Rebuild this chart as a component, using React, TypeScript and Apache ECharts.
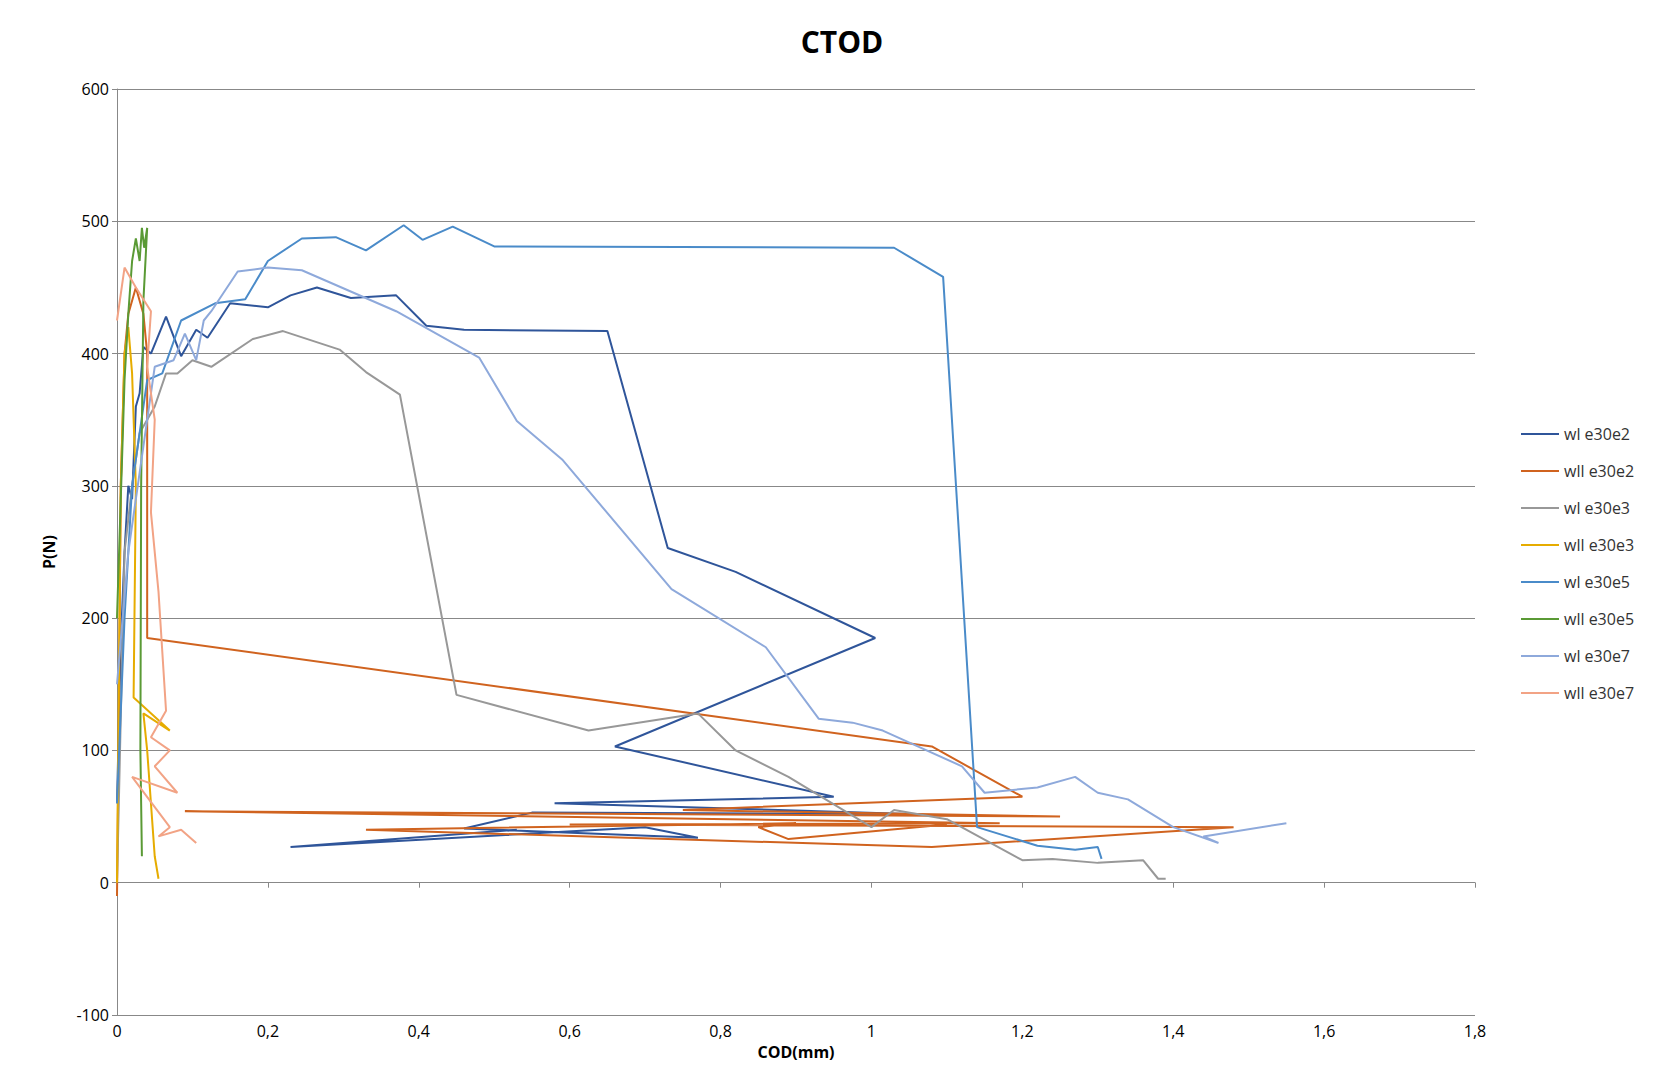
import React, { useEffect, useRef } from "react";
import * as echarts from "echarts";

const seriesNames = ["wl e30e2", "wll e30e2", "wl e30e3", "wll e30e3", "wl e30e5", "wll e30e5", "wl e30e7", "wll e30e7"];
const colors = ["#2F559A", "#D0631F", "#989898", "#E6AC00", "#4A8BC9", "#5A9A35", "#8EA9DB", "#F2A385"];

const wlE30e2 = [[0, 60], [0.005, 180], [0.01, 250], [0.015, 300], [0.02, 290], [0.025, 360], [0.03, 370], [0.035, 405], [0.045, 400], [0.065, 428], [0.085, 398], [0.105, 418], [0.12, 412], [0.15, 438], [0.2, 435], [0.23, 444], [0.265, 450], [0.31, 442], [0.37, 444], [0.41, 421], [0.46, 418], [0.65, 417], [0.73, 253], [0.82, 235], [1.005, 185], [0.66, 103], [0.95, 65], [0.58, 60], [1.05, 52], [0.55, 53], [0.46, 41], [0.77, 34], [0.7, 42], [0.23, 27], [0.53, 40]];
const wllE30e2 = [[0, -10], [0.002, 100], [0.005, 300], [0.01, 400], [0.015, 430], [0.02, 440], [0.025, 450], [0.03, 440], [0.035, 430], [0.04, 400], [0.04, 250], [0.04, 185], [1.08, 103], [1.2, 65], [0.75, 55], [1.25, 50], [0.09, 54], [1.17, 45], [0.6, 44], [1.48, 42], [1.08, 27], [0.33, 40], [0.9, 45], [0.85, 42], [0.89, 33], [1.1, 44]];
const wlE30e3 = [[0, 0], [0.01, 250], [0.02, 300], [0.03, 340], [0.05, 360], [0.065, 385], [0.08, 385], [0.1, 395], [0.125, 390], [0.18, 411], [0.22, 417], [0.295, 403], [0.33, 386], [0.375, 369], [0.45, 142], [0.625, 115], [0.77, 128], [0.82, 100], [0.89, 80], [1.0, 42], [1.03, 55], [1.1, 48], [1.2, 17], [1.24, 18], [1.3, 15], [1.36, 17], [1.38, 3], [1.39, 3]];
const wllE30e3 = [[0, 0], [0.005, 300], [0.01, 400], [0.015, 420], [0.02, 385], [0.025, 300], [0.022, 140], [0.07, 115], [0.035, 128], [0.04, 100], [0.045, 60], [0.05, 20], [0.055, 3]];
const wlE30e5 = [[0, 60], [0.01, 200], [0.02, 300], [0.03, 340], [0.04, 380], [0.06, 385], [0.085, 425], [0.13, 438], [0.17, 441], [0.2, 470], [0.245, 487], [0.29, 488], [0.33, 478], [0.38, 497], [0.405, 486], [0.445, 496], [0.5, 481], [1.03, 480], [1.095, 458], [1.14, 42], [1.22, 28], [1.27, 25], [1.3, 27], [1.305, 18]];
const wllE30e5 = [[0, 200], [0.01, 380], [0.015, 430], [0.02, 470], [0.025, 487], [0.03, 470], [0.033, 495], [0.036, 480], [0.04, 495], [0.035, 440], [0.032, 300], [0.031, 100], [0.033, 20]];
const wlE30e7 = [[0, 150], [0.015, 250], [0.03, 310], [0.05, 390], [0.075, 395], [0.09, 415], [0.105, 395], [0.115, 425], [0.125, 432], [0.16, 462], [0.2, 465], [0.245, 463], [0.37, 432], [0.48, 397], [0.53, 349], [0.59, 320], [0.735, 222], [0.86, 178], [0.93, 124], [0.975, 121], [1.015, 115], [1.12, 88], [1.15, 68], [1.22, 72], [1.27, 80], [1.3, 68], [1.34, 63], [1.4, 42], [1.46, 30], [1.44, 35], [1.55, 45]];
const wllE30e7 = [[0, 425], [0.01, 465], [0.025, 450], [0.045, 432], [0.04, 390], [0.05, 350], [0.045, 280], [0.055, 220], [0.065, 130], [0.045, 110], [0.07, 100], [0.05, 88], [0.08, 68], [0.02, 80], [0.07, 42], [0.055, 35], [0.085, 40], [0.105, 30]];

const allData = [wlE30e2, wllE30e2, wlE30e3, wllE30e3, wlE30e5, wllE30e5, wlE30e7, wllE30e7];

const App: React.FC = () => {
  const ref = useRef<HTMLDivElement>(null);
  useEffect(() => {
    if (!ref.current) return;
    const chart = echarts.init(ref.current, undefined, { renderer: "svg" });
    const font = "'Open Sans', 'Liberation Sans', sans-serif";
    chart.setOption({
      animation: false,
      textStyle: { fontFamily: font },
      title: {
        text: "CTOD",
        left: 836,
        textAlign: "center",
        top: 20,
        textStyle: { fontSize: 30, fontWeight: "bold", color: "#000", fontFamily: font },
      },
      legend: {
        orient: "vertical",
        left: 1515,
        top: 420,
        itemGap: 21,
        itemWidth: 38,
        itemHeight: 2,
        icon: "rect",
        textStyle: { fontSize: 16, color: "#333" },
        data: seriesNames,
      },
      grid: { left: 116, right: 203, top: 88, bottom: 57 },
      xAxis: {
        type: "value",
        min: 0,
        max: 1.8,
        interval: 0.2,
        name: "COD(mm)",
        nameLocation: "middle",
        nameGap: 24,
        nameTextStyle: { fontSize: 16, fontWeight: "bold", color: "#000" },
        position: "bottom",
        axisLine: { onZero: true, lineStyle: { color: "#888" } },
        axisTick: { show: true, length: 5, lineStyle: { color: "#888" } },
        axisLabel: { fontSize: 16, color: "#000", formatter: (v: number) => String(+v.toFixed(1)).replace(".", ",") },
        splitLine: { show: false },
      },
      yAxis: {
        type: "value",
        min: -100,
        max: 600,
        interval: 100,
        name: "P(N)",
        nameLocation: "middle",
        nameGap: 60,
        nameTextStyle: { fontSize: 16, fontWeight: "bold", color: "#000" },
        axisLine: { show: true, lineStyle: { color: "#888" } },
        axisTick: { show: true, length: 5, lineStyle: { color: "#888" } },
        axisLabel: { fontSize: 16, color: "#000" },
        splitLine: { show: true, lineStyle: { color: "#888" } },
      },
      series: allData.map((d, i) => ({
        name: seriesNames[i],
        type: "line",
        data: d,
        showSymbol: false,
        symbol: "none",
        color: colors[i],
        lineStyle: { width: 2, color: colors[i] },
      })),
    });
    return () => chart.dispose();
  }, []);
  return (
    <div style={{ margin: -8, width: 1679, height: 1073, border: "1px solid #999", boxSizing: "border-box", background: "#fff" }}>
      <div ref={ref} style={{ width: 1677, height: 1071 }} />
    </div>
  );
};

export default App;
